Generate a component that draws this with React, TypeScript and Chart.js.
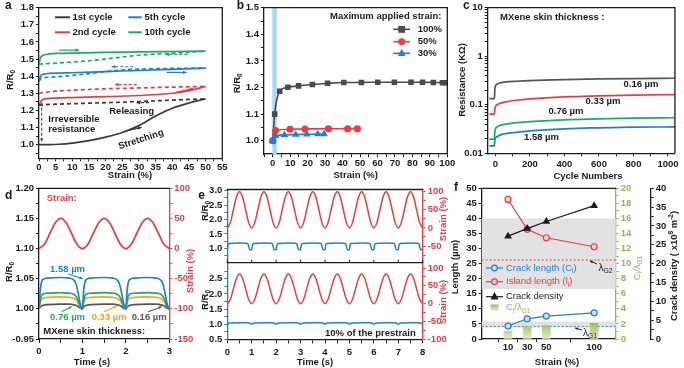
import React, { useEffect, useRef } from 'react';
import { Chart, registerables } from 'chart.js';

Chart.register(...registerables);

const W = 684;
const H = 368;
const FAM = '"Liberation Sans", Arial, Helvetica, sans-serif';
const INK = '#1b1b1b';
const DARK = '#3a3a3a';
const RED = '#ec3a3f';
const BLUE = '#1f7fd8';
const GREEN = '#1dab62';
const ORANGE = '#f4a21c';
const OLIVE = '#8cb85a';
const SKY = '#a4d9f6';
const BAND = '#e2e2e2';

// ---------------- panel a : R/R0 vs strain, cycles ----------------
const aX1s = [0, 3, 6, 10, 15, 20, 25, 30, 35, 40, 45, 48, 50];
const aY1s = [1.0, 1.0, 1.002, 1.009, 1.023, 1.044, 1.071, 1.111, 1.167, 1.212, 1.243, 1.258, 1.267];
const aX1r = [0, 2, 5, 10, 15, 20, 25, 30, 35, 40, 45, 50];
const aY1r = [1.232, 1.234, 1.236, 1.239, 1.242, 1.245, 1.248, 1.252, 1.256, 1.26, 1.264, 1.267];
const aX2s = [0, 0.5, 1, 2, 5, 10, 20, 30, 40, 45, 50];
const aY2s = [1.232, 1.25, 1.262, 1.268, 1.272, 1.275, 1.28, 1.287, 1.3, 1.315, 1.34];
const aX2r = [0, 2, 5, 10, 20, 30, 40, 45, 50];
const aY2r = [1.3, 1.306, 1.312, 1.318, 1.326, 1.331, 1.336, 1.338, 1.34];
const aX5s = [0, 0.3, 0.7, 1.5, 3, 6, 10, 20, 30, 40, 50];
const aY5s = [1.37, 1.39, 1.405, 1.412, 1.416, 1.418, 1.42, 1.427, 1.433, 1.44, 1.447];
const aX5r = [0, 0.5, 2, 5, 10, 15, 20, 25, 30, 40, 50];
const aY5r = [1.37, 1.385, 1.392, 1.396, 1.404, 1.415, 1.427, 1.436, 1.441, 1.445, 1.447];
const aX10s = [0, 0.3, 0.7, 1.5, 3, 6, 10, 20, 30, 40, 50];
const aY10s = [1.47, 1.5, 1.515, 1.524, 1.53, 1.533, 1.535, 1.539, 1.542, 1.544, 1.546];
const aX10r = [0, 0.5, 2, 5, 10, 15, 20, 25, 30, 40, 45, 50];
const aY10r = [1.47, 1.471, 1.473, 1.476, 1.482, 1.49, 1.5, 1.512, 1.522, 1.535, 1.54, 1.546];
const aXTicks = [0, 5, 10, 15, 20, 25, 30, 35, 40, 45, 50, 55];
const aXMinor = [2.5, 7.5, 12.5, 17.5, 22.5, 27.5, 32.5, 37.5, 42.5, 47.5, 52.5];
const aYTicks = [1.0, 1.1, 1.2, 1.3, 1.4, 1.5, 1.6, 1.7, 1.8];
const aYMinor = [0.95, 1.05, 1.15, 1.25, 1.35, 1.45, 1.55, 1.65, 1.75];

// ---------------- panel b : maximum applied strain ----------------
const b100X = [0, 1.1, 4, 8.7, 14.8, 22.7, 31.4, 40.7, 50.8, 60.2, 69.7, 79.2, 85.8, 92, 97.2, 99.6];
const b100Y = [1.0, 1.1, 1.186, 1.201, 1.206, 1.211, 1.216, 1.219, 1.219, 1.22, 1.22, 1.22, 1.22, 1.219, 1.218, 1.218];
const b50X = [0, 1.7, 9.9, 18.5, 31.9, 42.9, 48.5];
const b50Y = [1.0, 1.038, 1.043, 1.044, 1.045, 1.045, 1.045];
const b30X = [0, 1.7, 6.7, 13.2, 19.5, 25.8, 29.4];
const b30Y = [1.0, 1.018, 1.022, 1.023, 1.024, 1.025, 1.025];
const bLabels = ['100%', '50%', '30%'];
const bXTicks = [0, 10, 20, 30, 40, 50, 60, 70, 80, 90, 100];
const bXMinor = [-5, 5, 15, 25, 35, 45, 55, 65, 75, 85, 95];
const bYTicks = [1.0, 1.1, 1.2, 1.3, 1.4, 1.5];
const bYMinor = [1.05, 1.15, 1.25, 1.35, 1.45];

// ---------------- panel c : resistance vs cycles ----------------
const cX = [-35, -6, -4, 0, 10, 30, 60, 120, 200, 400, 600, 800, 1040];
const c016 = [0.134, 0.134, 0.2, 0.245, 0.265, 0.285, 0.295, 0.305, 0.315, 0.33, 0.34, 0.347, 0.352];
const c033 = [0.064, 0.064, 0.08, 0.092, 0.1, 0.108, 0.115, 0.124, 0.132, 0.145, 0.152, 0.158, 0.162];
const c076 = [0.0195, 0.0195, 0.027, 0.032, 0.035, 0.038, 0.04, 0.043, 0.045, 0.049, 0.051, 0.053, 0.054];
const c158 = [0.0142, 0.0142, 0.018, 0.0205, 0.022, 0.024, 0.0255, 0.027, 0.029, 0.032, 0.0335, 0.0345, 0.035];
const cLabels = ['0.16 µm', '0.33 µm', '0.76 µm', '1.58 µm'];
const cXTicks = [0, 200, 400, 600, 800, 1000];
const cXMinor = [100, 300, 500, 700, 900];
const cYTicks = [0.01, 0.1, 1, 10];
const cYMinor = [0.02, 0.03, 0.04, 0.05, 0.06, 0.07, 0.08, 0.09, 0.2, 0.3, 0.4, 0.5, 0.6, 0.7, 0.8, 0.9, 2, 3, 4, 5, 6, 7, 8, 9];

// ---------------- panel d : time response ----------------
const tD = [0, 0.03, 0.06, 0.1, 0.2, 0.5, 0.7, 0.78, 0.85, 0.9, 0.95,
  1, 1.03, 1.06, 1.1, 1.2, 1.5, 1.7, 1.78, 1.85, 1.9, 1.95,
  2, 2.03, 2.06, 2.1, 2.2, 2.5, 2.7, 2.78, 2.85, 2.9, 2.95, 3];
const d158 = [1.0, 1.032, 1.045, 1.049, 1.051, 1.052, 1.051, 1.049, 1.042, 1.027, 1.008,
  1.0, 1.032, 1.045, 1.049, 1.051, 1.052, 1.051, 1.049, 1.042, 1.027, 1.008,
  1.0, 1.032, 1.045, 1.049, 1.051, 1.052, 1.051, 1.049, 1.042, 1.027, 1.008, 1.0];
const d076 = [1.0, 1.016, 1.022, 1.025, 1.026, 1.027, 1.026, 1.025, 1.021, 1.014, 1.004,
  1.0, 1.016, 1.022, 1.025, 1.026, 1.027, 1.026, 1.025, 1.021, 1.014, 1.004,
  1.0, 1.016, 1.022, 1.025, 1.026, 1.027, 1.026, 1.025, 1.021, 1.014, 1.004, 1.0];
const d033 = [1.0, 1.011, 1.016, 1.018, 1.019, 1.02, 1.019, 1.018, 1.015, 1.01, 1.003,
  1.0, 1.011, 1.016, 1.018, 1.019, 1.02, 1.019, 1.018, 1.015, 1.01, 1.003,
  1.0, 1.011, 1.016, 1.018, 1.019, 1.02, 1.019, 1.018, 1.015, 1.01, 1.003, 1.0];
const d016 = [1.0, 1.003, 1.005, 1.006, 1.007, 1.008, 1.008, 1.007, 1.006, 1.004, 1.001,
  1.0, 1.003, 1.005, 1.006, 1.007, 1.008, 1.008, 1.007, 1.006, 1.004, 1.001,
  1.0, 1.003, 1.005, 1.006, 1.007, 1.008, 1.008, 1.007, 1.006, 1.004, 1.001, 1.0];
const tDS = [0, 0.125, 0.25, 0.375, 0.5, 0.625, 0.75, 0.875, 1, 1.125, 1.25, 1.375, 1.5, 1.625, 1.75, 1.875,
  2, 2.125, 2.25, 2.375, 2.5, 2.625, 2.75, 2.875, 3];
const dStrain = [0, 7.3, 25, 42.7, 50, 42.7, 25, 7.3, 0, 7.3, 25, 42.7, 50, 42.7, 25, 7.3,
  0, 7.3, 25, 42.7, 50, 42.7, 25, 7.3, 0];
const dXTicks = [0, 1, 2, 3];
const dXMinor = [0.5, 1.5, 2.5];
const dYTicks = [0.95, 1.0, 1.05, 1.1, 1.15, 1.2];
const dYMinor = [0.975, 1.025, 1.075, 1.125, 1.175];
const dSTicks = [-150, -100, -50, 0, 50, 100];
const dSMinor = [-125, -75, -25, 25, 75];

// ---------------- panel e : 8 s cycling ----------------
const tE = [0, 0.125, 0.25, 0.375, 0.5, 0.625, 0.75, 0.875,
  1, 1.125, 1.25, 1.375, 1.5, 1.625, 1.75, 1.875,
  2, 2.125, 2.25, 2.375, 2.5, 2.625, 2.75, 2.875,
  3, 3.125, 3.25, 3.375, 3.5, 3.625, 3.75, 3.875,
  4, 4.125, 4.25, 4.375, 4.5, 4.625, 4.75, 4.875,
  5, 5.125, 5.25, 5.375, 5.5, 5.625, 5.75, 5.875,
  6, 6.125, 6.25, 6.375, 6.5, 6.625, 6.75, 6.875,
  7, 7.125, 7.25, 7.375, 7.5, 7.625, 7.75, 7.875, 8];
const eStrainTop = [0, 14.6, 50, 85.4, 100, 85.4, 50, 14.6,
  0, 14.6, 50, 85.4, 100, 85.4, 50, 14.6,
  0, 14.6, 50, 85.4, 100, 85.4, 50, 14.6,
  0, 14.6, 50, 85.4, 100, 85.4, 50, 14.6,
  0, 14.6, 50, 85.4, 100, 85.4, 50, 14.6,
  0, 14.6, 50, 85.4, 100, 85.4, 50, 14.6,
  0, 14.6, 50, 85.4, 100, 85.4, 50, 14.6,
  0, 14.6, 50, 85.4, 100, 85.4, 50, 14.6, 0];
const eStrainBot = [0, 12.2, 41.5, 70.8, 83, 70.8, 41.5, 12.2,
  0, 12.2, 41.5, 70.8, 83, 70.8, 41.5, 12.2,
  0, 12.2, 41.5, 70.8, 83, 70.8, 41.5, 12.2,
  0, 12.2, 41.5, 70.8, 83, 70.8, 41.5, 12.2,
  0, 12.2, 41.5, 70.8, 83, 70.8, 41.5, 12.2,
  0, 12.2, 41.5, 70.8, 83, 70.8, 41.5, 12.2,
  0, 12.2, 41.5, 70.8, 83, 70.8, 41.5, 12.2,
  0, 12.2, 41.5, 70.8, 83, 70.8, 41.5, 12.2, 0];
const tEB = [0, 0.03, 0.08, 0.5, 0.78, 0.85, 0.88, 0.92,
  1, 1.03, 1.08, 1.5, 1.78, 1.85, 1.88, 1.92,
  2, 2.03, 2.08, 2.5, 2.78, 2.85, 2.88, 2.92,
  3, 3.03, 3.08, 3.5, 3.78, 3.85, 3.88, 3.92,
  4, 4.03, 4.08, 4.5, 4.78, 4.85, 4.88, 4.92,
  5, 5.03, 5.08, 5.5, 5.78, 5.85, 5.88, 5.92,
  6, 6.03, 6.08, 6.5, 6.78, 6.85, 6.88, 6.92,
  7, 7.03, 7.08, 7.5, 7.78, 7.85, 7.88, 7.92, 8];
const eRTop = [0.95, 1.12, 1.17, 1.185, 1.175, 1.15, 1.05, 0.95,
  0.95, 1.12, 1.17, 1.185, 1.175, 1.15, 1.05, 0.95,
  0.95, 1.12, 1.17, 1.185, 1.175, 1.15, 1.05, 0.95,
  0.95, 1.12, 1.17, 1.185, 1.175, 1.15, 1.05, 0.95,
  0.95, 1.12, 1.17, 1.185, 1.175, 1.15, 1.05, 0.95,
  0.95, 1.12, 1.17, 1.185, 1.175, 1.15, 1.05, 0.95,
  0.95, 1.12, 1.17, 1.185, 1.175, 1.15, 1.05, 0.95,
  0.95, 1.12, 1.17, 1.185, 1.175, 1.15, 1.05, 0.95, 0.96];
const tEC = [0, 0.06, 0.15, 0.5, 0.85, 0.94,
  1, 1.06, 1.15, 1.5, 1.85, 1.94,
  2, 2.06, 2.15, 2.5, 2.85, 2.94,
  3, 3.06, 3.15, 3.5, 3.85, 3.94,
  4, 4.06, 4.15, 4.5, 4.85, 4.94,
  5, 5.06, 5.15, 5.5, 5.85, 5.94,
  6, 6.06, 6.15, 6.5, 6.85, 6.94,
  7, 7.06, 7.15, 7.5, 7.85, 7.94, 8];
const eRBot = [0.995, 1.03, 1.04, 1.045, 1.043, 1.03,
  0.995, 1.03, 1.04, 1.045, 1.043, 1.03,
  0.995, 1.03, 1.04, 1.045, 1.043, 1.03,
  0.995, 1.03, 1.04, 1.045, 1.043, 1.03,
  0.995, 1.03, 1.04, 1.045, 1.043, 1.03,
  0.995, 1.03, 1.04, 1.045, 1.043, 1.03,
  0.995, 1.03, 1.04, 1.045, 1.043, 1.03,
  0.995, 1.03, 1.04, 1.045, 1.043, 1.03, 0.995];
const eXTicks = [0, 1, 2, 3, 4, 5, 6, 7, 8];
const eXMinor = [0.5, 1.5, 2.5, 3.5, 4.5, 5.5, 6.5, 7.5];
const eYTopTicks = [1.0, 1.5, 2.0, 2.5, 3.0];
const eYBotTicks = [0.5, 1.0, 1.5, 2.0, 2.5];
const eYMinor = [0.75, 1.25, 1.75, 2.25, 2.75];
const eSTopTicks = [-50, 0, 50, 100];
const eSBotTicks = [-100, -50, 0, 50, 100];
const eSMinor = [-75, -25, 25, 75];

// ---------------- panel f : crack statistics ----------------
const fX = [10, 30, 50, 100];
const fCrack = [4.3, 6.7, 7.6, 8.7];
const fIsland = [46.3, 36.4, 33.6, 30.6];
const fDensity = [27.3, 29.3, 31.2, 35.4];
const fRatio = [1.06, 1.64, 1.77, 2.08];
const fBandHigh = [16.6, 40];
const fBandLow = [3.8, 5.8];
const fLambdaG2 = 26.2;
const fLambdaG1 = 4.2;
const fXTicks = [10, 30, 50, 100];
const fYTicks = [0, 5, 10, 15, 20, 25, 30, 35, 40, 45, 50];
const fGTicks = [0, 2, 4, 6, 8, 10, 12, 14, 16, 18, 20];
const fGMinor = [1, 3, 5, 7, 9, 11, 13, 15, 17, 19];
const fDTicks = [0, 5, 10, 15, 20, 25, 30, 35, 40];
const fDMinor = [2.5, 7.5, 12.5, 17.5, 22.5, 27.5, 32.5, 37.5];

// ---------------- helpers ----------------
const pts = (xs: number[], ys: number[]) => xs.map((x, i) => ({ x, y: ys[i] }));

type Seg = string | { t: string; s?: 'sub' | 'sup' };
interface TOpt { size?: number; bold?: boolean; color?: string; align?: 'left' | 'center' | 'right'; rot?: number }

function txt(ctx: CanvasRenderingContext2D, segs: Seg[] | string, x: number, y: number, o: TOpt = {}) {
  const size = o.size ?? 9.5;
  const wt = o.bold === false ? 'normal' : 'bold';
  const list = (typeof segs === 'string' ? [segs] : segs).map((sg) => (typeof sg === 'string' ? { t: sg, s: undefined } : sg));
  const fnt = (s: number) => `${wt} ${s}px ${FAM}`;
  let total = 0;
  const widths = list.map((p) => {
    ctx.font = fnt(p.s ? size * 0.68 : size);
    const m = ctx.measureText(p.t).width;
    total += m;
    return m;
  });
  ctx.save();
  ctx.translate(x, y);
  if (o.rot) ctx.rotate(o.rot);
  ctx.fillStyle = o.color ?? INK;
  ctx.textBaseline = 'middle';
  ctx.textAlign = 'left';
  let cx = o.align === 'center' ? -total / 2 : o.align === 'right' ? -total : 0;
  list.forEach((p, i) => {
    ctx.font = fnt(p.s ? size * 0.68 : size);
    const dy = p.s === 'sub' ? size * 0.32 : p.s === 'sup' ? -size * 0.38 : 0;
    ctx.fillText(p.t, cx, dy);
    cx += widths[i];
  });
  ctx.restore();
}

function arrow(ctx: CanvasRenderingContext2D, x1: number, y1: number, x2: number, y2: number, color: string,
  o: { dash?: boolean; both?: boolean; head?: number; lw?: number } = {}) {
  const h = o.head ?? 4;
  ctx.save();
  ctx.strokeStyle = color;
  ctx.fillStyle = color;
  ctx.lineWidth = o.lw ?? 1.2;
  if (o.dash) ctx.setLineDash([3, 2]);
  ctx.beginPath();
  ctx.moveTo(x1, y1);
  ctx.lineTo(x2, y2);
  ctx.stroke();
  ctx.setLineDash([]);
  const head = (xa: number, ya: number, xb: number, yb: number) => {
    const a = Math.atan2(yb - ya, xb - xa);
    ctx.beginPath();
    ctx.moveTo(xb, yb);
    ctx.lineTo(xb - h * Math.cos(a - 0.45), yb - h * Math.sin(a - 0.45));
    ctx.lineTo(xb - h * Math.cos(a + 0.45), yb - h * Math.sin(a + 0.45));
    ctx.closePath();
    ctx.fill();
  };
  head(x1, y1, x2, y2);
  if (o.both) head(x2, y2, x1, y1);
  ctx.restore();
}

function hline(ctx: CanvasRenderingContext2D, x1: number, x2: number, y: number, color: string, lw = 2, dash: number[] = []) {
  ctx.save();
  ctx.strokeStyle = color;
  ctx.lineWidth = lw;
  ctx.setLineDash(dash);
  ctx.beginPath();
  ctx.moveTo(x1, y);
  ctx.lineTo(x2, y);
  ctx.stroke();
  ctx.restore();
}

function mark(ctx: CanvasRenderingContext2D, style: string, x: number, y: number, r: number, fill: string, stroke: string) {
  ctx.save();
  ctx.fillStyle = fill;
  ctx.strokeStyle = stroke;
  ctx.lineWidth = 1.2;
  ctx.beginPath();
  if (style === 'rect') ctx.rect(x - r, y - r, 2 * r, 2 * r);
  else if (style === 'circle') ctx.arc(x, y, r, 0, Math.PI * 2);
  else {
    ctx.moveTo(x, y - r * 1.15);
    ctx.lineTo(x + r, y + r * 0.75);
    ctx.lineTo(x - r, y + r * 0.75);
    ctx.closePath();
  }
  ctx.fill();
  ctx.stroke();
  ctx.restore();
}

function frame(ctx: CanvasRenderingContext2D, ca: any, top?: string, right?: string) {
  ctx.save();
  ctx.lineWidth = 1.3;
  if (top) {
    ctx.strokeStyle = top;
    ctx.beginPath();
    ctx.moveTo(ca.left - 0.6, ca.top);
    ctx.lineTo(ca.right + 0.6, ca.top);
    ctx.stroke();
  }
  if (right) {
    ctx.strokeStyle = right;
    ctx.beginPath();
    ctx.moveTo(ca.right, ca.top);
    ctx.lineTo(ca.right, ca.bottom);
    ctx.stroke();
  }
  ctx.restore();
}

const ROT = -Math.PI / 2;
const R0: Seg[] = ['R/R', { t: '0', s: 'sub' }];

interface ScOpt {
  pos: 'left' | 'right' | 'bottom';
  min: number; max: number; major: number[]; minor?: number[];
  fmt?: (v: number) => string; size: number; color?: string; labelColor?: string;
  type?: string; tl?: number; pad?: number; display?: boolean;
}
function sc(o: ScOpt) {
  const horiz = o.pos === 'bottom';
  const col = o.color ?? INK;
  const all = o.major.concat(o.minor ?? []);
  return {
    type: o.type ?? 'linear',
    position: o.pos,
    min: o.min,
    max: o.max,
    display: o.display ?? true,
    afterBuildTicks: (s: any) => { s.ticks = all.map((v) => ({ value: v })); },
    afterFit: (s: any) => { if (horiz) s.height = o.size; else s.width = o.size; },
    ticks: {
      autoSkip: false, maxRotation: 0, minRotation: 0, padding: o.pad ?? 2,
      color: o.labelColor ?? col,
      font: { family: FAM, size: 9.5, weight: 'bold' },
      callback: (v: number) => {
        if (!o.major.some((m) => Math.abs(m - v) < 1e-9)) return '';
        return o.fmt ? o.fmt(v) : String(v);
      },
    },
    grid: { drawOnChartArea: false, drawTicks: true, tickLength: o.tl ?? 3, color: col, lineWidth: 1 },
    border: { display: true, color: col, width: 1.3 },
  };
}

function base(L: number, T: number, R: number, B: number, lw: number, rw: number, bh: number) {
  return {
    responsive: false, maintainAspectRatio: false, animation: false, devicePixelRatio: 1, events: [],
    layout: { padding: { left: L - lw, top: T, right: W - R - rw, bottom: H - B - bh } },
    plugins: { legend: { display: false }, tooltip: { enabled: false }, title: { display: false } },
  };
}

function ln(data: any[], color: string, o: { dash?: boolean; y?: string; w?: number } = {}) {
  return {
    type: 'line', data, borderColor: color, backgroundColor: color, borderWidth: o.w ?? 1.7,
    pointRadius: 0, fill: false, cubicInterpolationMode: 'monotone',
    borderDash: o.dash ? [4, 3] : [], yAxisID: o.y ?? 'y',
  };
}

function overlay(id: string, after: (c: any, ctx: CanvasRenderingContext2D) => void,
  before?: (c: any, ctx: CanvasRenderingContext2D) => void) {
  return {
    id,
    beforeDatasetsDraw: (c: any) => { if (before) before(c, c.ctx); },
    afterDraw: (c: any) => after(c, c.ctx),
  };
}

// ---------------- chart configurations ----------------
function buildConfigs(): any[] {
  const f1 = (v: number) => v.toFixed(1);

  // ---- a ----
  const cfgA = {
    type: 'line',
    data: {
      datasets: [
        ln(pts(aX1s, aY1s), DARK), ln(pts(aX1r, aY1r), DARK, { dash: true }),
        ln(pts(aX2s, aY2s), RED), ln(pts(aX2r, aY2r), RED, { dash: true }),
        ln(pts(aX5s, aY5s), BLUE), ln(pts(aX5r, aY5r), BLUE, { dash: true }),
        ln(pts(aX10s, aY10s), GREEN), ln(pts(aX10r, aY10r), GREEN, { dash: true }),
      ],
    },
    options: {
      ...base(39, 5.3, 222.3, 158.3, 30, 0, 20),
      scales: {
        x: sc({ pos: 'bottom', min: 0, max: 55, major: aXTicks, minor: aXMinor, size: 20, pad: 0 }),
        y: sc({ pos: 'left', min: 0.92, max: 1.8, major: aYTicks, minor: aYMinor, fmt: f1, size: 30 }),
      },
    },
    plugins: [overlay('a', (c, ctx) => {
      const X = (v: number) => c.scales.x.getPixelForValue(v);
      const Y = (v: number) => c.scales.y.getPixelForValue(v);
      frame(ctx, c.chartArea, INK, INK);
      txt(ctx, 'a', 5, 6, { size: 12 });
      txt(ctx, R0, 10, 80, { rot: ROT, align: 'center' });
      txt(ctx, 'Strain (%)', 130, 175, { align: 'center' });
      hline(ctx, 55, 70, 17.3, DARK); txt(ctx, '1st cycle', 72.5, 17.3);
      hline(ctx, 128.3, 141.7, 17.3, BLUE); txt(ctx, '5th cycle', 144.5, 17.3);
      hline(ctx, 55, 70, 32.3, RED); txt(ctx, '2nd cycle', 72.5, 32.3);
      hline(ctx, 128.3, 141.7, 32.3, GREEN); txt(ctx, '10th cycle', 144.5, 32.3);
      arrow(ctx, X(6), Y(1.552), X(12), Y(1.552), GREEN);
      arrow(ctx, X(44.5), Y(1.527), X(38), Y(1.527), GREEN, { dash: true });
      arrow(ctx, X(28.3), Y(1.455), X(21.8), Y(1.455), BLUE, { dash: true });
      arrow(ctx, X(38.3), Y(1.422), X(44.3), Y(1.422), BLUE);
      arrow(ctx, X(29.3), Y(1.351), X(22.8), Y(1.351), RED, { dash: true });
      arrow(ctx, X(41.3), Y(1.307), X(46.3), Y(1.328), RED);
      arrow(ctx, X(33), Y(1.245), X(29.3), Y(1.245), DARK, { dash: true });
      arrow(ctx, X(25.8), Y(1.078), X(30.8), Y(1.101), DARK);
      arrow(ctx, X(0.8), Y(1.245), X(0.8), Y(1.015), '#555', { dash: true, both: true });
      txt(ctx, 'Irreversible', 48.3, 119);
      txt(ctx, 'resistance', 48.3, 129.7);
      txt(ctx, 'Releasing', 131.7, 111, { align: 'center' });
      txt(ctx, 'Stretching', 141, 139.5, { align: 'center', rot: -0.31 });
    })],
  };

  // ---- b ----
  const pointDs = (data: any[], color: string, style: string) => ({
    type: 'line', data, borderColor: color, backgroundColor: color, borderWidth: 1.6,
    pointRadius: 2.8, pointStyle: style, pointBackgroundColor: color, pointBorderColor: color,
    fill: false, cubicInterpolationMode: 'monotone', yAxisID: 'y',
  });
  const cfgB = {
    type: 'line',
    data: {
      datasets: [
        pointDs(pts(b30X, b30Y), BLUE, 'triangle'),
        pointDs(pts(b50X, b50Y), RED, 'circle'),
        pointDs(pts(b100X, b100Y), '#4a4a4a', 'rect'),
      ],
    },
    options: {
      ...base(264, 6, 447.3, 154, 30, 0, 20),
      scales: {
        x: sc({ pos: 'bottom', min: -5, max: 100, major: bXTicks, minor: bXMinor, size: 20, pad: 1 }),
        y: sc({ pos: 'left', min: 0.95, max: 1.5, major: bYTicks, minor: bYMinor, fmt: f1, size: 30 }),
      },
    },
    plugins: [overlay('b', (c, ctx) => {
      frame(ctx, c.chartArea, INK, INK);
      txt(ctx, 'b', 236.7, 6, { size: 12 });
      txt(ctx, R0, 237, 83.3, { rot: ROT, align: 'center' });
      txt(ctx, 'Strain (%)', 355.7, 175.7, { align: 'center' });
      txt(ctx, 'Maximum applied strain:', 330, 16);
      const ys = [29.3, 41.7, 53.3];
      const cols = ['#4a4a4a', RED, BLUE];
      const sty = ['rect', 'circle', 'triangle'];
      ys.forEach((y, i) => {
        hline(ctx, 393.3, 410, y, cols[i], 1.6);
        mark(ctx, sty[i], 401.7, y, 2.8, cols[i], cols[i]);
        txt(ctx, bLabels[i], 417.7, y);
      });
    }, (c, ctx) => {
      const X = (v: number) => c.scales.x.getPixelForValue(v);
      const ca = c.chartArea;
      ctx.save();
      ctx.fillStyle = SKY;
      ctx.fillRect(X(-0.2), ca.top, X(2.3) - X(-0.2), ca.bottom - ca.top);
      ctx.restore();
    })],
  };

  // ---- c ----
  const cfgC = {
    type: 'line',
    data: {
      datasets: [
        ln(pts(cX, c016), '#555555'), ln(pts(cX, c033), RED),
        ln(pts(cX, c076), GREEN), ln(pts(cX, c158), BLUE),
      ],
    },
    options: {
      ...base(487.7, 7, 674.9, 153.3, 30, 0, 20),
      scales: {
        x: sc({ pos: 'bottom', min: -45, max: 1040, major: cXTicks, minor: cXMinor, size: 20, pad: 2 }),
        y: sc({ pos: 'left', type: 'logarithmic', min: 0.01, max: 10, major: cYTicks, minor: cYMinor, size: 30 }),
      },
    },
    plugins: [overlay('c', (c, ctx) => {
      frame(ctx, c.chartArea, INK, INK);
      txt(ctx, 'c', 463, 6, { size: 12 });
      txt(ctx, 'Resistance (KΩ)', 462, 80, { rot: ROT, align: 'center' });
      txt(ctx, 'Cycle Numbers', 588, 176.7, { align: 'center' });
      txt(ctx, 'MXene skin thickness :', 500, 17.3);
      txt(ctx, cLabels[0], 641, 84, { align: 'center' });
      txt(ctx, cLabels[1], 603, 101.5, { align: 'center' });
      txt(ctx, cLabels[2], 566, 111.5, { align: 'center' });
      txt(ctx, cLabels[3], 541.5, 137, { align: 'center' });
    })],
  };

  // ---- d ----
  const cfgD = {
    type: 'line',
    data: {
      datasets: [
        ln(pts(tDS, dStrain), RED, { y: 'y1' }),
        ln(pts(tD, d158), BLUE), ln(pts(tD, d076), GREEN),
        ln(pts(tD, d033), ORANGE), ln(pts(tD, d016), '#555555'),
      ],
    },
    options: {
      ...base(39, 188.3, 169.3, 339, 30, 24, 24),
      scales: {
        x: sc({ pos: 'bottom', min: 0, max: 3, major: dXTicks, minor: dXMinor, size: 24, tl: 4, pad: 3 }),
        y: sc({ pos: 'left', min: 0.95, max: 1.2, major: dYTicks, minor: dYMinor, size: 30,
          fmt: (v) => (Math.abs(v - 0.95) < 1e-9 ? '-0.95' : v.toFixed(2)) }),
        y1: sc({ pos: 'right', min: -150, max: 100, major: dSTicks, minor: dSMinor, size: 24, color: RED }),
      },
    },
    plugins: [overlay('d', (c, ctx) => {
      frame(ctx, c.chartArea, INK);
      txt(ctx, 'd', 5, 196, { size: 12 });
      txt(ctx, R0, 9, 272, { rot: ROT, align: 'center' });
      txt(ctx, 'Strain (%)', 190.5, 271, { rot: ROT, align: 'center', color: RED });
      txt(ctx, 'Time (s)', 92, 362.7, { align: 'center' });
      txt(ctx, 'Strain:', 46.7, 198, { color: RED });
      txt(ctx, '1.58 µm', 50, 269, { color: BLUE });
      arrow(ctx, 68.3, 274, 82.7, 278.7, BLUE, { head: 3.5 });
      txt(ctx, '0.76 µm', 50, 317, { color: GREEN });
      arrow(ctx, 61.7, 311.7, 71.7, 306.7, GREEN, { head: 3.5 });
      txt(ctx, '0.33 µm', 91.7, 317, { color: ORANGE });
      arrow(ctx, 104, 311.7, 116.7, 306, ORANGE, { head: 3.5 });
      txt(ctx, '0.16 µm', 131.7, 317, { color: '#555555' });
      arrow(ctx, 148.3, 311.7, 161.7, 306.7, '#555555', { head: 3.5 });
      txt(ctx, 'MXene skin thickness:', 43.3, 331);
    })],
  };

  // ---- e (top) ----
  const cfgE1 = {
    type: 'line',
    data: {
      datasets: [
        ln(pts(tE, eStrainTop), RED, { y: 'y1', w: 1.5 }),
        ln(pts(tEB, eRTop), BLUE, { w: 1.5 }),
      ],
    },
    options: {
      ...base(227.3, 189.5, 422.7, 262.7, 22, 24, 0),
      scales: {
        x: { type: 'linear', min: 0, max: 8, display: false },
        y: sc({ pos: 'left', min: 0.5, max: 3.04, major: eYTopTicks, minor: eYMinor, fmt: f1, size: 22, color: BLUE, labelColor: INK }),
        y1: sc({ pos: 'right', min: -96, max: 106, major: eSTopTicks, minor: eSMinor, size: 24, color: RED }),
      },
    },
    plugins: [overlay('e1', (c, ctx) => {
      const X = (v: number) => c.scales.x.getPixelForValue(v);
      const ca = c.chartArea;
      frame(ctx, ca, INK);
      ctx.save();
      ctx.strokeStyle = INK;
      ctx.lineWidth = 1;
      eXTicks.forEach((v) => { ctx.beginPath(); ctx.moveTo(X(v), ca.bottom); ctx.lineTo(X(v), ca.bottom - 3); ctx.stroke(); });
      ctx.restore();
      txt(ctx, 'e', 198.3, 196, { size: 12 });
      txt(ctx, R0, 205, 211, { rot: ROT, align: 'center' });
      txt(ctx, 'Strain (%)', 443.5, 219, { rot: ROT, align: 'center', color: RED });
    })],
  };

  // ---- e (bottom) ----
  const cfgE2 = {
    type: 'line',
    data: {
      datasets: [
        ln(pts(tE, eStrainBot), RED, { y: 'y1', w: 1.5 }),
        ln(pts(tEC, eRBot), BLUE, { w: 1.5 }),
      ],
    },
    options: {
      ...base(227.3, 262.7, 422.7, 339.3, 22, 24, 24),
      scales: {
        x: sc({ pos: 'bottom', min: 0, max: 8, major: eXTicks, minor: eXMinor, size: 24, tl: 4, pad: 3 }),
        y: sc({ pos: 'left', min: 0.5, max: 3.03, major: eYBotTicks, minor: eYMinor, fmt: f1, size: 22, color: BLUE, labelColor: INK }),
        y1: sc({ pos: 'right', min: -100, max: 115, major: eSBotTicks, minor: eSMinor, size: 24, color: RED }),
      },
    },
    plugins: [overlay('e2', (c, ctx) => {
      frame(ctx, c.chartArea, INK);
      txt(ctx, R0, 205, 300, { rot: ROT, align: 'center' });
      txt(ctx, 'Strain (%)', 443.5, 302, { rot: ROT, align: 'center', color: RED });
      txt(ctx, 'Time (s)', 315, 362.7, { align: 'center' });
      txt(ctx, '10% of the prestrain', 325, 333);
    })],
  };

  // ---- f ----
  const barFill = (ctxArg: any) => {
    const ch = ctxArg.chart;
    if (!ch.chartArea) return OLIVE;
    const y0 = ch.scales.y2.getPixelForValue(0);
    const y1 = ch.scales.y2.getPixelForValue(2.2);
    const g = ch.ctx.createLinearGradient(0, y1, 0, y0);
    g.addColorStop(0, '#98bb5c');
    g.addColorStop(1, '#e3eecb');
    return g;
  };
  const cfgF = {
    type: 'line',
    data: {
      datasets: [
        { type: 'line', data: pts(fX, fDensity), borderColor: INK, backgroundColor: INK, borderWidth: 1.2,
          pointStyle: 'triangle', pointRadius: 3.3, pointBackgroundColor: INK, yAxisID: 'y3', fill: false },
        { type: 'line', data: pts(fX, fCrack), borderColor: BLUE, backgroundColor: BLUE, borderWidth: 1.2,
          pointStyle: 'circle', pointRadius: 3, pointBackgroundColor: '#cfe2f6', pointBorderColor: BLUE, yAxisID: 'y', fill: false },
        { type: 'line', data: pts(fX, fIsland), borderColor: RED, backgroundColor: RED, borderWidth: 1.2,
          pointStyle: 'circle', pointRadius: 3, pointBackgroundColor: '#f8d2d2', pointBorderColor: RED, yAxisID: 'y', fill: false },
        { type: 'bar', data: pts(fX, fRatio), backgroundColor: barFill, borderWidth: 0, barThickness: 8, yAxisID: 'y2' },
      ],
    },
    options: {
      ...base(481.7, 188.3, 615.7, 339, 24, 57, 20),
      scales: {
        x: sc({ pos: 'bottom', min: 0, max: 105, major: fXTicks, size: 20, pad: 0 }),
        y: sc({ pos: 'left', min: 0, max: 50, major: fYTicks, size: 24 }),
        y2: sc({ pos: 'right', min: 0, max: 20, major: fGTicks, minor: fGMinor, size: 35, color: OLIVE }),
        y3: sc({ pos: 'right', min: 0, max: 40, major: fDTicks, minor: fDMinor, size: 22 }),
      },
    },
    plugins: [overlay('f', (c, ctx) => {
      const ca = c.chartArea;
      frame(ctx, ca, INK);
      txt(ctx, 'f', 454, 187.3, { size: 12 });
      txt(ctx, 'Length (µm)', 455, 267, { rot: ROT, align: 'center' });
      txt(ctx, 'Strain (%)', 557, 362.7, { align: 'center' });
      txt(ctx, ['C', { t: 'l', s: 'sub' }, '/λ', { t: 'G1', s: 'sub' }], 637.5, 268, { rot: ROT, align: 'center', color: OLIVE, bold: false });
      txt(ctx, ['Crack density ( x10', { t: '8', s: 'sup' }, ' m', { t: '-2', s: 'sup' }, ')'], 674.5, 266, { rot: ROT, align: 'center' });
      // legend
      hline(ctx, 486, 503, 268, BLUE, 1.2); mark(ctx, 'circle', 494.5, 268, 2.8, '#cfe2f6', BLUE);
      txt(ctx, ['Crack length (C', { t: 'l', s: 'sub' }, ')'], 506, 268, { color: BLUE, bold: false, size: 9.5 });
      hline(ctx, 486, 503, 281.7, RED, 1.2); mark(ctx, 'circle', 494.5, 281.7, 2.8, '#f8d2d2', RED);
      txt(ctx, ['Island length (l', { t: 'l', s: 'sub' }, ')'], 506, 281.7, { color: RED, bold: false, size: 9.5 });
      hline(ctx, 486, 503, 296.7, INK, 1.2); mark(ctx, 'tri', 494.5, 296.7, 3, INK, INK);
      txt(ctx, 'Crack density', 506, 296.7, { bold: false, size: 9.5 });
      ctx.save();
      const g = ctx.createLinearGradient(0, 304.5, 0, 310.5);
      g.addColorStop(0, '#98bb5c');
      g.addColorStop(1, '#e3eecb');
      ctx.fillStyle = g;
      ctx.fillRect(490.5, 304.5, 8, 6);
      ctx.restore();
      txt(ctx, ['C', { t: 'l', s: 'sub' }, '/λ', { t: 'G1', s: 'sub' }], 506, 307.7, { color: OLIVE, bold: false, size: 9.5 });
      // lambda notes
      arrow(ctx, 597, 264, 590, 261, INK, { head: 3, lw: 1 });
      txt(ctx, ['λ', { t: 'G2', s: 'sub' }], 598.5, 268, { bold: false, size: 10 });
      arrow(ctx, 582, 330, 575, 328, INK, { head: 3, lw: 1 });
      txt(ctx, ['λ', { t: 'G1', s: 'sub' }], 583, 333, { bold: false, size: 10 });
    }, (c, ctx) => {
      const Y = (v: number) => c.scales.y.getPixelForValue(v);
      const ca = c.chartArea;
      ctx.save();
      ctx.fillStyle = BAND;
      ctx.fillRect(ca.left, Y(fBandHigh[1]), ca.right - ca.left, Y(fBandHigh[0]) - Y(fBandHigh[1]));
      ctx.fillRect(ca.left, Y(fBandLow[1]), ca.right - ca.left, Y(fBandLow[0]) - Y(fBandLow[1]));
      ctx.restore();
      hline(ctx, ca.left, ca.right, Y(fLambdaG2), RED, 0.9, [2, 2]);
      hline(ctx, ca.left, ca.right, Y(fLambdaG1), BLUE, 0.9, [2, 2]);
    })],
  };

  return [cfgA, cfgB, cfgC, cfgD, cfgE1, cfgE2, cfgF];
}

const N_CHARTS = 7;

export default function App() {
  const refs = useRef<(HTMLCanvasElement | null)[]>([]);
  useEffect(() => {
    Chart.defaults.font.family = FAM;
    const cfgs = buildConfigs();
    const charts = cfgs.map((cfg, i) => new Chart(refs.current[i] as HTMLCanvasElement, cfg));
    return () => charts.forEach((ch) => ch.destroy());
  }, []);
  return (
    <div style={{ position: 'absolute', left: 0, top: 0, width: W, height: H, background: '#ffffff', overflow: 'hidden' }}>
      {Array.from({ length: N_CHARTS }).map((_, i) => (
        <canvas
          key={i}
          ref={(el) => { refs.current[i] = el; }}
          width={W}
          height={H}
          style={{ position: 'absolute', left: 0, top: 0, width: W, height: H }}
        />
      ))}
    </div>
  );
}
